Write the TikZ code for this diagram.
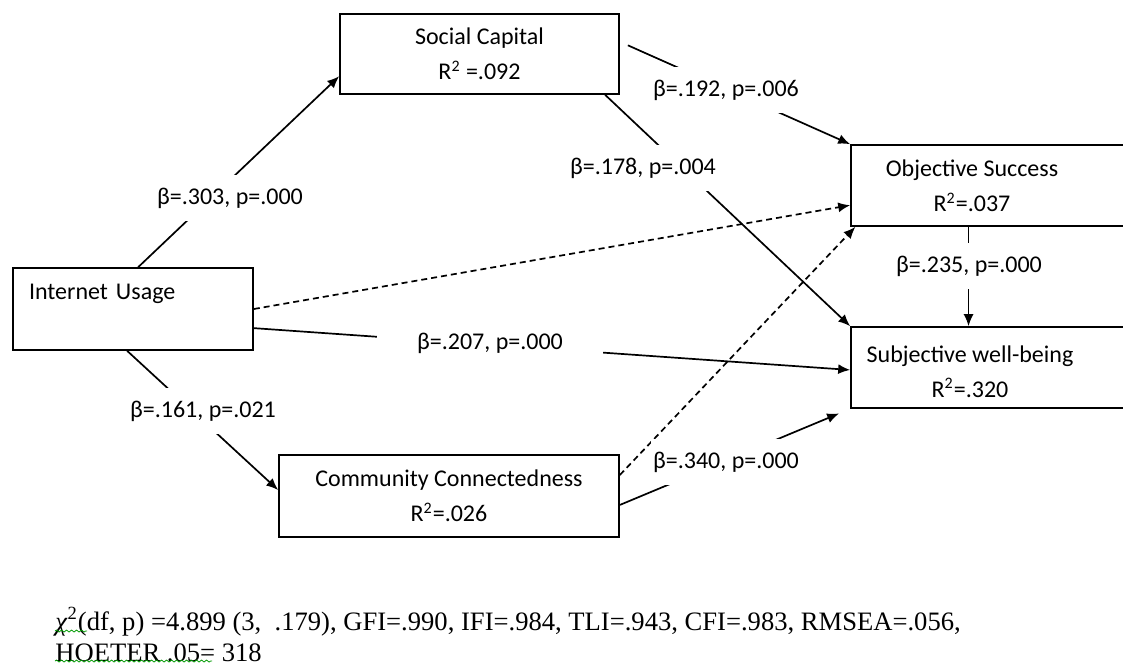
\documentclass[tikz,border=0pt]{standalone}
\usepackage{fontspec}
\setmainfont{Liberation Serif}
\newfontfamily\calibri{Carlito}
\usetikzlibrary{arrows.meta,decorations.pathmorphing}

\tikzset{
  box/.style={draw, line width=0.8pt, inner sep=0pt, align=center,
    font=\calibri\fontsize{12}{17.5}\selectfont},
  boxtext/.style={inner sep=0pt, align=center, font=\calibri\fontsize{12}{17.5}\selectfont},
  coef/.style={fill=white, inner xsep=1pt, inner ysep=6.5pt,
    font=\calibri\fontsize{12}{14}\selectfont},
  link/.style={->, line width=0.85pt},
  weak/.style={link, dash pattern=on 3pt off 2pt},
  spell/.style={decorate, decoration={snake, amplitude=0.5pt, segment length=2.5pt},
    green!60!black, line width=0.4pt}
}

\begin{document}
\begin{tikzpicture}[>={Latex[length=6pt,width=5pt]}, x=0.5pt, y=-0.5pt]
  \useasboundingbox (0,0) rectangle (1123,665);

  % boxes
  \node[box, minimum width=139.5pt, minimum height=40pt] (sc) at (479.5,54)
    {Social Capital\\R\textsuperscript{2} =.092};
  \node[box, minimum width=120pt, minimum height=41pt, text width=104pt, align=left] (iu) at (133,309)
    {Internet Usage\\\mbox{}};
  \node[box, minimum width=139.5pt, minimum height=40.5pt] (os) at (990.5,185.5) {};
  \node[boxtext] (ost) at (972,186) {Objective Success\\R\textsuperscript{2}=.037};
  \node[box, minimum width=139.5pt, minimum height=40.5pt] (sw) at (990.5,367.5) {};
  \node[boxtext] (swt) at (970,371.5) {Subjective well-being\\R\textsuperscript{2}=.320};
  \node[box, minimum width=170pt, minimum height=41pt] (cc) at (449,496)
    {Community Connectedness\\R\textsuperscript{2}=.026};

  % paths
  \draw[link] (iu.83) -- (sc.189);
  \draw[link, shorten <=4.4pt] (sc.5.5) -- (os.north west);
  \draw[link] (sc.342) -- (sw.north west);
  \draw[weak] (iu.east) -- (os.188);
  \draw[link] (iu.351) -- (sw.181.5);
  \draw[link] (iu.262) -- (cc.178);
  \draw[weak] (cc.7) -- (os.197.5);
  \draw[link, shorten >=6pt] (cc.357) -- (sw.south west);
  \draw[link] (os.242) -- (sw.118);

  % coefficients
  \node[coef] (b303) at (230,198) {β=.303, p=.000};
  \node[coef] (b192) at (726,90) {β=.192, p=.006};
  \node[coef] (b178) at (643,168) {β=.178, p=.004};
  \node[coef, inner xsep=20pt] (b207) at (490,343) {β=.207, p=.000};
  \node[coef] (b161) at (203,411) {β=.161, p=.021};
  \node[coef] (b340) at (726,462) {β=.340, p=.000};
  \node[coef] (b235) at (969,266) {β=.235, p=.000};

  % fit indices
  \node[anchor=north west, inner sep=0pt, align=left, font=\fontsize{13.3}{15.5}\selectfont] (fit) at (55,607)
    {\textit{χ}\textsuperscript{2}(df, p) =4.899 (3,\ \ .179), GFI=.990, IFI=.984, TLI=.943, CFI=.983, RMSEA=.056,\\HOETER .05= 318};
  \draw[spell] (55,631) -- (87,631);
  \draw[spell] (55,661) -- (212,661);
\end{tikzpicture}
\end{document}
